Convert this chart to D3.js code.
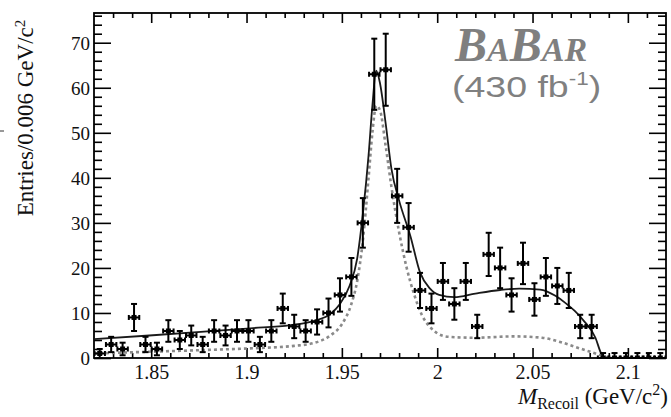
<!DOCTYPE html>
<html><head><meta charset="utf-8">
<script src="https://cdn.jsdelivr.net/npm/d3@7"></script>
<style>
html,body{margin:0;padding:0;background:#fff;}
svg{display:block;}
</style></head>
<body>
<svg id="chart" width="671" height="417"></svg>
<script>
// ---- data ----
const binLow = 1.82, binWidth = 0.006;
const counts = [1,3,2,9,3,2,6,4,5,3, 6,5,6,6,3,6,11,7,6,8, 10,14,18,30,63,64,36,29,15,11, 17,12,17,7,23,20,14,21,13,18, 16,15,7,7,0,0,0,0,0,0];
const errors = [1,1.7,1.4,3,1.7,1.4,2.4,2,2.2,1.7, 2.4,2.2,2.4,2.4,1.7,2.4,3.3,2.6,2.4,2.8, 3.2,3.7,4.2,5.5,7.9,8,6,5.4,3.9,3.3, 4.1,3.5,4.1,2.6,4.8,4.5,3.7,4.6,3.6,4.2, 4,3.9,2.6,2.6,1.1,1.1,1.1,1.1,1.1,1.1];
const fitX = [1.820,1.849,1.876,1.902,1.923,1.936,1.944,1.949,1.954,1.958,1.961,1.964,1.966,1.968,1.970,1.973,1.976,1.980,1.986,1.991,1.996,2.001,2.009,2.020,2.033,2.043,2.054,2.062,2.067,2.072,2.077,2.083,2.086,2.088,2.100,2.120];
const fitY = [4.2,5.0,5.8,6.6,7.3,8.3,9.8,12,16,22,32,45,56,63.8,61,52,42,35,27,19,15.5,14,13.5,14.3,15.1,15.4,15.2,13.8,12.3,10.5,8.2,4.5,1.0,0,0,0];
const sigX = [1.820,1.850,1.880,1.905,1.925,1.935,1.944,1.950,1.955,1.958,1.961,1.964,1.966,1.968,1.970,1.973,1.976,1.980,1.984,1.988,1.992,1.996,2.000,2.006,2.020,2.040,2.055,2.065,2.075,2.083,2.088,2.090,2.120];
const sigY = [1.0,1.4,1.8,2.2,2.7,3.3,5,7.5,12,17,26,40,50,56,55,47,38,28,20,14,9.5,7,5.5,4.7,4.5,4.8,4.5,3.5,2.1,1.0,0.3,0,0];
const xMajor = [1.85,1.9,1.95,2.0,2.05,2.1];
const xTickLabels = ["1.85","1.9","1.95","2","2.05","2.1"];
const yMajor = [0,10,20,30,40,50,60,70];
const yTickLabels = ["0","10","20","30","40","50","60","70"];

// ---- layout ----
const L=94, R=666, T=13, B=358;
const svg = d3.select("#chart");
const x = d3.scaleLinear().domain([1.82,2.12]).range([L,R]);
const y = d3.scaleLinear().domain([0,76.6]).range([B,T]);
const serif = "'Liberation Serif','Times New Roman',serif";

svg.append("defs").append("clipPath").attr("id","clip")
  .append("rect").attr("x",L).attr("y",T).attr("width",R-L).attr("height",B-T+1);

const xMinor = d3.range(183,212).map(v=>v/100).filter(v=>!xMajor.some(m=>Math.abs(m-v)<1e-9));
const yMinor = d3.range(0,77,2).filter(v=>v%10!==0);

function styleAxis(g){ g.select(".domain").remove(); g.selectAll("line").attr("stroke","#000").attr("stroke-width",1.6); }

// bottom
const gb = svg.append("g").attr("transform",`translate(0,${B})`)
  .call(d3.axisBottom(x).tickValues(xMajor).tickSize(-10).tickFormat((d,i)=>xTickLabels[i]));
styleAxis(gb);
gb.selectAll("text").attr("y",21).attr("dy",null).attr("font-family",serif).attr("font-size",20).attr("fill","#111");
const gbm = svg.append("g").attr("transform",`translate(0,${B})`)
  .call(d3.axisBottom(x).tickValues(xMinor).tickSize(-5).tickFormat(""));
styleAxis(gbm);
// top
const gt = svg.append("g").attr("transform",`translate(0,${T})`)
  .call(d3.axisTop(x).tickValues(xMajor).tickSize(-10).tickFormat(""));
styleAxis(gt);
const gtm = svg.append("g").attr("transform",`translate(0,${T})`)
  .call(d3.axisTop(x).tickValues(xMinor).tickSize(-5).tickFormat(""));
styleAxis(gtm);
// left
const gl = svg.append("g").attr("transform",`translate(${L},0)`)
  .call(d3.axisLeft(y).tickValues(yMajor).tickSize(-17).tickFormat((d,i)=>yTickLabels[i]));
styleAxis(gl);
gl.selectAll("text").attr("x",-4).attr("dy","0.34em").attr("font-family",serif).attr("font-size",19).attr("fill","#111");
const glm = svg.append("g").attr("transform",`translate(${L},0)`)
  .call(d3.axisLeft(y).tickValues(yMinor).tickSize(-8).tickFormat(""));
styleAxis(glm);
// right
const gr = svg.append("g").attr("transform",`translate(${R},0)`)
  .call(d3.axisRight(y).tickValues(yMajor).tickSize(-17).tickFormat(""));
styleAxis(gr);
const grm = svg.append("g").attr("transform",`translate(${R},0)`)
  .call(d3.axisRight(y).tickValues(yMinor).tickSize(-8).tickFormat(""));
styleAxis(grm);

// frame
svg.append("rect").attr("x",L).attr("y",T).attr("width",R-L).attr("height",B-T)
  .attr("fill","none").attr("stroke","#000").attr("stroke-width",1.8);

const plot = svg.append("g").attr("clip-path","url(#clip)");

// signal dashed curve
const line = d3.line().x(d=>x(d[0])).y(d=>y(d[1])).curve(d3.curveMonotoneX);
plot.append("path").datum(sigX.map((v,i)=>[v,sigY[i]]))
  .attr("d",line).attr("fill","none").attr("stroke","#8a8a8a").attr("stroke-width",2.6).attr("stroke-dasharray","3,3");
// total fit
plot.append("path").datum(fitX.map((v,i)=>[v,fitY[i]]))
  .attr("d",line).attr("fill","none").attr("stroke","#1a1a1a").attr("stroke-width",1.8);

// data points
const pts = counts.map((c,i)=>({x:binLow+binWidth*(i+0.5), y:c, e:errors[i]}));
const pg = plot.append("g").attr("stroke","#000").attr("stroke-width",2);
const hw = binWidth/2;
pts.forEach(p=>{
  const cx=x(p.x), cy=y(p.y), x0=x(p.x-hw)+0.5, x1=x(p.x+hw)-0.5;
  const yt=y(p.y+p.e), yb=y(Math.max(0,p.y-p.e));
  pg.append("line").attr("x1",x0).attr("x2",x1).attr("y1",cy).attr("y2",cy);
  pg.append("line").attr("x1",x0).attr("x2",x0).attr("y1",cy-2.5).attr("y2",cy+2.5);
  pg.append("line").attr("x1",x1).attr("x2",x1).attr("y1",cy-2.5).attr("y2",cy+2.5);
  pg.append("line").attr("x1",cx).attr("x2",cx).attr("y1",yt).attr("y2",yb);
  pg.append("line").attr("x1",cx-3).attr("x2",cx+3).attr("y1",yt).attr("y2",yt);
  pg.append("line").attr("x1",cx-3).attr("x2",cx+3).attr("y1",yb).attr("y2",yb);
  pg.append("rect").attr("x",cx-2.5).attr("y",cy-2.5).attr("width",5).attr("height",5).attr("fill","#000").attr("stroke","none");
});

// y title
svg.append("text").attr("transform","translate(33,118) rotate(-90)")
  .attr("text-anchor","middle").attr("font-family",serif).attr("font-size",23).attr("fill","#111")
  .html('Entries/0.006 GeV/c<tspan dy="-8" font-size="15">2</tspan>');
// x title
const xt = svg.append("text").attr("x",668).attr("y",404).attr("text-anchor","end")
  .attr("font-family",serif).attr("font-size",23).attr("fill","#111");
xt.append("tspan").attr("font-style","italic").text("M");
xt.append("tspan").attr("dy",5).attr("font-size",16).text("Recoil");
xt.append("tspan").attr("dy",-5).text(" (GeV/c");
xt.append("tspan").attr("dy",-9).attr("font-size",16).text("2");
xt.append("tspan").attr("dy",9).text(")");

// BaBar logo
const bb = svg.append("text").attr("x",455).attr("y",61)
  .attr("font-family",serif).attr("font-weight","bold").attr("font-style","italic").attr("fill","#7f7f7f");
bb.append("tspan").attr("font-size",48).text("B");
bb.append("tspan").attr("font-size",34).text("A");
bb.append("tspan").attr("font-size",48).text("B");
bb.append("tspan").attr("font-size",34).text("AR");
const lumG = svg.append("g").attr("transform","translate(452,97) scale(1.25,1)");
const lum = lumG.append("text").attr("x",0).attr("y",0)
  .attr("font-family","'Liberation Sans',Arial,sans-serif").attr("font-size",30).attr("fill","#808080");
lum.append("tspan").text("(430 fb");
lum.append("tspan").attr("dy",-12).attr("font-size",18).text("-1");
lum.append("tspan").attr("dy",12).text(")");
// stray mark at left edge
svg.append("line").attr("x1",0).attr("x2",4).attr("y1",131).attr("y2",131).attr("stroke","#333").attr("stroke-width",1);
</script>
</body></html>
